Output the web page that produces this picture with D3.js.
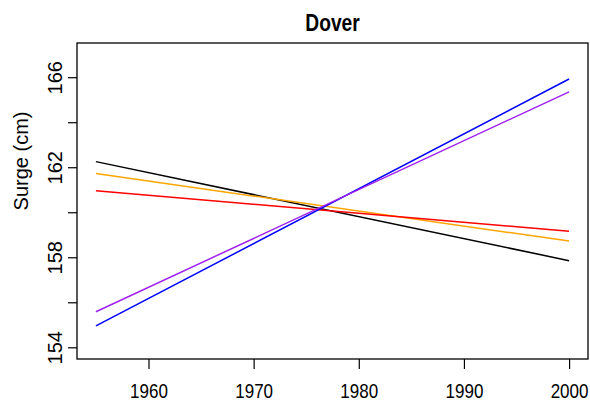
<!doctype html>
<html>
<head>
<style>
    body { margin: 0; background: #fff; }
    text { font-family: "Liberation Sans", Arial, Helvetica, sans-serif; fill: #000; }
    .axis path { display: none; }
    .axis line { stroke: #000; stroke-width: 1.2; }
</style>
<script src="https://d3js.org/d3.v7.min.js"></script>
</head>
<body>
<svg width="590" height="404"></svg>
<script>
    // data
    var years = [1955, 2000];
    var blackLine  = [162.25, 157.85];
    var orangeLine = [161.72, 158.72];
    var redLine    = [160.95, 159.16];
    var blueLine   = [154.95, 165.92];
    var purpleLine = [155.58, 165.35];
    var xTicks = [1960, 1970, 1980, 1990, 2000];
    var yTicks = [154, 156, 158, 160, 162, 164, 166];
    var yLabels = [154, 158, 162, 166];

    var series = [
        { name: "black",  color: "#000000", values: blackLine },
        { name: "orange", color: "#FFA500", values: orangeLine },
        { name: "red",    color: "#FF0000", values: redLine },
        { name: "blue",   color: "#0000FF", values: blueLine },
        { name: "purple", color: "#A020F0", values: purpleLine }
    ];

    var svg = d3.select("svg");
    var plotL = 77, plotR = 588, plotT = 43, plotB = 359;
    var squeeze = "scale(0.83,1)";   // R output was squashed sideways

    var x = d3.scaleLinear().domain([1953.2, 2001.8]).range([plotL, plotR]);
    var y = d3.scaleLinear().domain([153.48, 167.52]).range([plotB, plotT]);

    // x axis
    var gx = svg.append("g")
        .attr("class", "axis")
        .attr("transform", "translate(0," + plotB + ")")
        .call(d3.axisBottom(x).tickValues(xTicks).tickSize(10).tickSizeOuter(0).tickFormat(d3.format("d")));
    gx.selectAll("text")
        .attr("y", 0).attr("dy", null)
        .attr("transform", "translate(0,39) " + squeeze)
        .style("font-size", "20.5px");

    // y axis, only every other tick labelled like R does
    var gy = svg.append("g")
        .attr("class", "axis")
        .attr("transform", "translate(" + plotL + ",0)")
        .call(d3.axisLeft(y).tickValues(yTicks).tickSize(9).tickSizeOuter(0)
            .tickFormat(function(d) { return yLabels.indexOf(d) >= 0 ? d : ""; }));
    gy.selectAll("text")
        .attr("x", 0).attr("y", 0).attr("dy", null)
        .attr("transform", "translate(-15,0) rotate(-90)")
        .attr("text-anchor", "middle")
        .style("font-size", "20px");

    // lines
    var line = d3.line()
        .x(function(d, i) { return x(years[i]); })
        .y(function(d) { return y(d); });

    svg.selectAll(".series")
        .data(series)
        .enter().append("path")
        .attr("class", "series")
        .attr("fill", "none")
        .attr("stroke", function(d) { return d.color; })
        .attr("stroke-width", 1.5)
        .attr("d", function(d) { return line(d.values); });

    // box
    svg.append("rect")
        .attr("x", plotL).attr("y", plotT)
        .attr("width", plotR - plotL).attr("height", plotB - plotT)
        .attr("fill", "none")
        .attr("stroke", "#000")
        .attr("stroke-width", 1.3);

    // title
    svg.append("text")
        .attr("transform", "translate(" + (plotL + plotR) / 2 + ",31) scale(0.8,1)")
        .attr("text-anchor", "middle")
        .style("font-size", "24px")
        .style("font-weight", "bold")
        .text("Dover");

    // y label
    svg.append("text")
        .attr("transform", "translate(28,161) rotate(-90)")
        .attr("text-anchor", "middle")
        .style("font-size", "20px")
        .text("Surge (cm)");
</script>
</body>
</html>
